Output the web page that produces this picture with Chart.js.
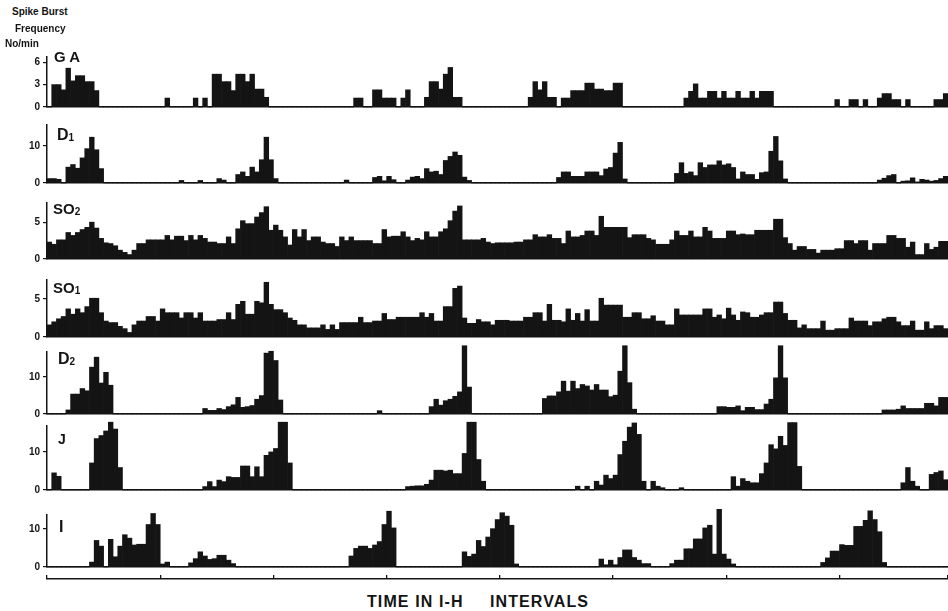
<!DOCTYPE html>
<html>
<head>
<meta charset="utf-8">
<script src="https://cdn.jsdelivr.net/npm/chart.js@4.4.1/dist/chart.umd.min.js"></script>
<style>
  html, body { margin: 0; padding: 0; background: #fff; }
  #wrap { position: relative; width: 948px; height: 611px; overflow: hidden;
          font-family: "Liberation Sans", Arial, sans-serif; color: #141414; }
  #wrap canvas { position: absolute; left: 0; }
  .lbl { position: absolute; font-weight: bold; line-height: 1; white-space: nowrap; z-index: 5; }
  .lbl span { font-size: 10px; vertical-align: -1px; }
  .unit { position: absolute; font-size: 10px; font-weight: bold; line-height: 1; white-space: nowrap; z-index: 5; }
  .xtitle { position: absolute; top: 594px; font-size: 16px; font-weight: bold; line-height: 1;
            letter-spacing: 1.1px; white-space: nowrap; }
</style>
</head>
<body>
<div id="wrap">
  <div class="unit" style="left:12px;top:7px">Spike Burst</div>
  <div class="unit" style="left:15px;top:24px">Frequency</div>
  <div class="unit" style="left:5px;top:39px">No/min</div>

  <div class="lbl" style="left:54px;top:49px;font-size:15px">G A</div>
  <div class="lbl" style="left:57px;top:127px;font-size:16px">D<span>1</span></div>
  <div class="lbl" style="left:53px;top:201px;font-size:15px">SO<span>2</span></div>
  <div class="lbl" style="left:53px;top:280px;font-size:15px">SO<span>1</span></div>
  <div class="lbl" style="left:58px;top:351px;font-size:16px">D<span>2</span></div>
  <div class="lbl" style="left:58px;top:432px;font-size:14px">J</div>
  <div class="lbl" style="left:59px;top:519px;font-size:16px">I</div>

  <div class="xtitle" style="left:367px">TIME IN I-H</div>
  <div class="xtitle" style="left:490px">INTERVALS</div>
</div>

<script>
// spike burst frequency per bin, 191 bins across the record (rows of 12 bins)
const gaValues = [
  0, 3.0, 3.0, 2.3, 5.2, 3.5, 4.2, 4.2, 3.4, 3.4, 2.2, 0,
  0, 0, 0, 0, 0, 0, 0, 0, 0, 0, 0, 0,
  0, 1.2, 0, 0, 0, 0, 0, 1.2, 0, 1.2, 0, 4.4,
  4.4, 3.4, 3.4, 2.2, 4.4, 4.4, 3.4, 4.4, 2.4, 2.4, 1.3, 0,
  0, 0, 0, 0, 0, 0, 0, 0, 0, 0, 0, 0,
  0, 0, 0, 0, 0, 1.2, 1.2, 0, 0, 2.3, 2.3, 1.2,
  1.2, 1.2, 0, 1.2, 2.3, 0, 0, 0, 1.3, 3.4, 3.4, 2.4,
  4.4, 5.3, 1.3, 1.3, 0, 0, 0, 0, 0, 0, 0, 0,
  0, 0, 0, 0, 0, 0, 1.3, 3.4, 2.3, 3.4, 1.3, 1.3,
  0, 1.2, 1.2, 2.2, 2.2, 2.2, 3.2, 3.2, 2.4, 2.4, 2.2, 2.2,
  3.2, 3.2, 0, 0, 0, 0, 0, 0, 0, 0, 0, 0,
  0, 0, 0, 1.2, 2.1, 3.1, 1.2, 1.2, 2.1, 2.1, 1.2, 2.1,
  1.2, 1.2, 2.1, 1.2, 1.2, 2.1, 1.2, 2.1, 2.1, 2.1, 0, 0,
  0, 0, 0, 0, 0, 0, 0, 0, 0, 0, 0, 1.0,
  0, 0, 1.0, 1.0, 0, 1.0, 0, 0, 1.2, 1.8, 1.8, 1.0,
  1.0, 0, 1.0, 0, 0, 0, 0, 0, 1.0, 1.0, 1.8
];

const d1Values = [
  1.2, 1.2, 1.0, 0, 4.3, 5.0, 4.0, 6.8, 9.3, 12.4, 9.0, 3.9,
  0, 0, 0, 0, 0, 0, 0, 0, 0, 0, 0, 0,
  0, 0, 0, 0, 0.7, 0, 0, 0, 0.7, 0, 0, 0,
  1.2, 0.8, 0, 0, 2.3, 3.0, 1.8, 4.3, 3.0, 6.3, 12.4, 6.3,
  1.2, 0, 0, 0, 0, 0, 0, 0, 0, 0, 0, 0,
  0, 0, 0, 0.8, 0, 0, 0, 0, 0, 1.5, 1.8, 0.6,
  1.8, 0.9, 0, 0, 0.8, 1.6, 1.8, 1.2, 3.9, 3.0, 3.2, 2.3,
  6.1, 7.2, 8.4, 7.5, 1.6, 0.7, 0, 0, 0, 0, 0, 0,
  0, 0, 0, 0, 0, 0, 0, 0, 0, 0, 0, 0,
  1.5, 3.0, 3.0, 1.8, 1.8, 1.8, 3.0, 3.0, 3.0, 2.0, 3.8, 4.2,
  8.1, 11.0, 1.1, 0, 0, 0, 0, 0, 0, 0, 0, 0,
  0, 2.6, 5.5, 2.6, 3.0, 2.0, 5.5, 4.2, 4.9, 4.9, 6.0, 4.9,
  5.2, 4.2, 1.1, 3.0, 2.3, 2.3, 1.0, 2.8, 3.0, 8.6, 12.6, 6.0,
  1.1, 0, 0, 0, 0, 0, 0, 0, 0, 0, 0, 0,
  0, 0, 0, 0, 0, 0, 0, 0, 0.8, 1.3, 2.0, 2.3,
  0, 0.5, 0.6, 1.4, 0.3, 1.0, 0.8, 0.5, 0.7, 1.2, 1.8
];

const so2Values = [
  2.3, 2.0, 2.6, 2.6, 3.6, 3.2, 3.6, 4.0, 4.3, 5.0, 4.2, 2.8,
  2.2, 2.1, 1.8, 1.2, 0.9, 0.6, 1.2, 2.1, 2.1, 2.6, 2.6, 2.6,
  2.6, 3.2, 2.6, 3.1, 3.1, 2.5, 3.2, 2.6, 3.2, 2.8, 2.3, 2.3,
  2.1, 2.1, 3.0, 2.1, 4.1, 5.2, 4.8, 4.8, 5.7, 6.3, 7.1, 3.9,
  4.6, 3.9, 3.0, 1.9, 4.0, 3.0, 4.0, 2.5, 3.0, 3.0, 2.3, 2.1,
  2.1, 1.7, 3.0, 2.5, 3.0, 2.5, 2.5, 2.5, 2.5, 2.1, 2.1, 4.0,
  3.0, 3.1, 3.1, 3.7, 3.0, 2.5, 2.8, 2.6, 3.7, 3.0, 3.0, 3.7,
  4.1, 5.2, 6.5, 7.2, 2.6, 2.6, 2.6, 2.6, 2.8, 2.3, 2.1, 2.2,
  2.2, 2.2, 2.2, 2.3, 2.3, 2.6, 2.6, 3.3, 3.0, 3.0, 3.3, 2.8,
  2.8, 2.1, 3.8, 3.0, 3.0, 3.2, 3.8, 3.8, 3.2, 5.8, 4.3, 4.3,
  4.3, 4.3, 4.3, 2.9, 3.3, 3.3, 3.3, 2.8, 2.6, 2.0, 2.0, 2.0,
  2.6, 3.8, 3.2, 3.2, 3.8, 3.0, 3.0, 4.3, 3.8, 2.8, 2.8, 2.8,
  3.8, 3.8, 3.3, 3.4, 3.3, 3.3, 3.9, 3.9, 3.9, 3.9, 5.4, 5.4,
  2.9, 2.1, 1.2, 1.7, 1.7, 1.3, 1.3, 0.8, 1.2, 1.2, 1.2, 1.4,
  1.4, 2.5, 2.5, 2.1, 2.5, 2.5, 1.2, 2.1, 2.1, 2.1, 3.2, 3.2,
  2.8, 2.8, 1.6, 2.3, 0.6, 0.6, 2.1, 1.3, 1.6, 2.4, 2.4
];

const so1Values = [
  1.6, 2.0, 2.4, 2.7, 3.7, 3.0, 3.7, 3.2, 4.0, 5.1, 5.1, 3.2,
  2.1, 1.9, 1.9, 1.4, 1.1, 0.6, 1.6, 2.1, 2.1, 2.7, 2.7, 2.1,
  3.7, 3.2, 3.2, 3.2, 2.5, 3.2, 3.2, 2.5, 3.2, 2.1, 2.1, 2.1,
  2.3, 2.3, 3.2, 2.3, 4.3, 4.7, 3.0, 3.0, 4.7, 4.5, 7.2, 4.3,
  3.6, 3.6, 3.2, 2.5, 2.2, 1.6, 1.6, 1.2, 1.2, 1.2, 1.6, 1.0,
  1.6, 1.0, 1.9, 1.9, 1.9, 1.9, 2.6, 1.9, 1.9, 2.1, 2.1, 3.1,
  2.3, 2.3, 2.6, 2.6, 2.6, 2.6, 2.6, 3.2, 2.6, 3.1, 2.1, 2.1,
  4.0, 4.0, 6.4, 6.7, 2.5, 1.8, 1.8, 2.3, 2.0, 2.0, 1.6, 2.2,
  2.2, 2.2, 2.1, 2.1, 2.1, 2.6, 2.6, 3.2, 3.2, 2.1, 4.3, 2.2,
  2.2, 2.0, 3.7, 2.2, 3.1, 2.1, 3.6, 2.1, 2.1, 5.1, 4.2, 4.2,
  4.2, 4.2, 2.6, 2.6, 3.2, 3.2, 2.4, 2.4, 2.8, 2.1, 2.1, 1.6,
  1.6, 3.7, 2.9, 2.9, 2.9, 2.9, 2.9, 3.7, 3.7, 2.6, 2.9, 2.4,
  3.8, 2.9, 2.2, 3.3, 3.2, 2.6, 2.6, 2.9, 3.2, 3.2, 4.6, 4.6,
  3.1, 2.2, 2.2, 1.2, 1.6, 1.1, 1.1, 1.1, 2.1, 0.9, 0.9, 1.1,
  1.1, 1.1, 2.5, 2.1, 2.1, 2.1, 1.5, 2.0, 2.0, 2.4, 2.6, 2.6,
  2.0, 1.5, 1.5, 2.1, 0.9, 0.9, 2.0, 1.1, 1.5, 1.5, 1.1
];

const d2Values = [
  0, 0, 0, 0, 1.1, 5.4, 5.4, 6.9, 6.3, 12.7, 15.4, 8.4,
  11.3, 7.8, 0, 0, 0, 0, 0, 0, 0, 0, 0, 0,
  0, 0, 0, 0, 0, 0, 0, 0, 0, 1.5, 1.0, 1.0,
  1.5, 1.2, 2.0, 2.5, 4.5, 1.8, 2.0, 2.3, 4.0, 5.0, 16.5, 17.0,
  14.5, 3.8, 0, 0, 0, 0, 0, 0, 0, 0, 0, 0,
  0, 0, 0, 0, 0, 0, 0, 0, 0, 0, 0.9, 0,
  0, 0, 0, 0, 0, 0, 0, 0, 0, 2.0, 4.0, 2.4,
  3.6, 4.0, 4.8, 6.0, 18.5, 7.3, 0, 0, 0, 0, 0, 0,
  0, 0, 0, 0, 0, 0, 0, 0, 0, 4.2, 4.9, 4.9,
  6.0, 8.9, 6.2, 8.9, 6.9, 8.0, 7.6, 6.5, 8.0, 6.5, 6.5, 4.7,
  5.1, 11.6, 18.5, 8.5, 1.3, 0, 0, 0, 0, 0, 0, 0,
  0, 0, 0, 0, 0, 0, 0, 0, 0, 0, 2.0, 2.0,
  1.8, 1.8, 2.2, 0.9, 1.8, 1.8, 1.2, 1.2, 2.7, 4.0, 9.8, 18.5,
  9.8, 0, 0, 0, 0, 0, 0, 0, 0, 0, 0, 0,
  0, 0, 0, 0, 0, 0, 0, 0, 0, 1.1, 1.1, 1.1,
  1.3, 2.2, 1.5, 1.5, 1.5, 1.5, 2.9, 2.9, 2.2, 4.5, 4.5
];

const jValues = [
  0, 4.5, 3.6, 0, 0, 0, 0, 0, 0, 7.1, 13.5, 14.3,
  15.5, 17.8, 16.0, 5.9, 0, 0, 0, 0, 0, 0, 0, 0,
  0, 0, 0, 0, 0, 0, 0, 0, 0, 0.9, 2.2, 0.9,
  2.6, 2.2, 3.5, 3.3, 3.3, 6.3, 6.3, 3.5, 6.1, 3.5, 9.1, 10.0,
  10.9, 17.8, 17.8, 7.1, 0, 0, 0, 0, 0, 0, 0, 0,
  0, 0, 0, 0, 0, 0, 0, 0, 0, 0, 0, 0,
  0, 0, 0, 0, 0.9, 1.0, 1.1, 1.1, 1.5, 2.6, 5.2, 5.2,
  5.0, 5.2, 4.3, 4.3, 9.6, 17.8, 17.8, 8.0, 2.3, 0, 0, 0,
  0, 0, 0, 0, 0, 0, 0, 0, 0, 0, 0, 0,
  0, 0, 0, 0, 1.0, 0, 1.0, 0, 2.3, 1.3, 3.9, 3.0,
  3.9, 9.3, 12.8, 16.5, 17.6, 14.6, 2.3, 0, 2.3, 1.0, 0.6, 0,
  0, 0, 0.6, 0, 0, 0, 0, 0, 0, 0, 0, 0,
  0, 3.5, 1.0, 3.0, 2.3, 1.9, 1.9, 4.3, 7.1, 11.9, 10.8, 14.1,
  11.7, 17.7, 17.7, 6.2, 0, 0, 0, 0, 0, 0, 0, 0,
  0, 0, 0, 0, 0, 0, 0, 0, 0, 0, 0, 0,
  0, 1.9, 5.9, 2.3, 1.0, 0, 0, 4.1, 4.6, 5.0, 2.7
];

const iValues = [
  0, 0, 0, 0, 0, 0, 0, 0, 0, 1.3, 7.0, 5.5,
  0, 7.3, 2.7, 5.5, 8.5, 7.6, 5.8, 6.0, 6.0, 11.2, 14.1, 11.2,
  0.8, 1.3, 0, 0, 0, 0, 1.1, 2.2, 4.0, 2.9, 2.0, 2.2,
  3.1, 3.1, 1.8, 0.9, 0, 0, 0, 0, 0, 0, 0, 0,
  0, 0, 0, 0, 0, 0, 0, 0, 0, 0, 0, 0,
  0, 0, 0, 0, 2.9, 4.9, 5.5, 5.5, 4.9, 5.8, 6.7, 11.2,
  14.7, 10.3, 0, 0, 0, 0, 0, 0, 0, 0, 0, 0,
  0, 0, 0, 0, 4.0, 2.8, 3.4, 7.0, 5.4, 7.9, 10.1, 12.5,
  14.3, 13.4, 11.0, 0.8, 0, 0, 0, 0, 0, 0, 0, 0,
  0, 0, 0, 0, 0, 0, 0, 0, 0, 2.1, 0.6, 1.8,
  0.6, 2.5, 4.5, 4.5, 2.5, 1.8, 0.9, 0.9, 0, 0, 0, 0,
  0.9, 1.8, 1.8, 4.8, 4.8, 7.4, 7.4, 10.3, 11.0, 3.4, 15.2, 3.4,
  2.1, 0.8, 0, 0, 0, 0, 0, 0, 0, 0, 0, 0,
  0, 0, 0, 0, 0, 0, 0, 0, 1.2, 2.4, 4.2, 4.2,
  5.9, 5.7, 5.7, 10.7, 10.7, 12.3, 14.8, 12.5, 9.3, 1.2, 0, 0,
  0, 0, 0, 0, 0, 0, 0, 0, 0, 0, 0
];

// y-axis tick labels
const gaTicks = [0, 3, 6];
const soTicks = [0, 5];
const dTicks = [0, 10];

// one category per bin, a time tick every 24 bins
const bins = gaValues.map((_, i) => i + 1);
const binsPerInterval = 24;

const INK = '#141414';
const FONT = '"Liberation Sans", Arial, sans-serif';

// top = pixel of the axis top, base = pixel of the zero line
const panels = [
  { values: gaValues,  ticks: gaTicks, yMax: 6.7,  top: 57,  base: 107 },
  { values: d1Values,  ticks: dTicks,  yMax: 15.7, top: 125, base: 183 },
  { values: so2Values, ticks: soTicks, yMax: 7.6,  top: 203, base: 259 },
  { values: so1Values, ticks: soTicks, yMax: 7.5,  top: 280, base: 337 },
  { values: d2Values,  ticks: dTicks,  yMax: 16.8, top: 352, base: 414 },
  { values: jValues,   ticks: dTicks,  yMax: 16.8, top: 426, base: 490 },
  { values: iValues,   ticks: dTicks,  yMax: 13.7, top: 515, base: 567 }
];

const wrap = document.getElementById('wrap');
const W = 948;
const HEAD = 18;

function addCanvas(top, height) {
  const c = document.createElement('canvas');
  c.width = W;
  c.height = height;
  c.style.top = top + 'px';
  c.style.width = W + 'px';
  c.style.height = height + 'px';
  wrap.insertBefore(c, wrap.firstChild);
  return c;
}

panels.forEach(p => {
  const height = p.base - p.top + HEAD + 3;
  const canvas = addCanvas(p.top - HEAD, height);

  new Chart(canvas, {
    type: 'bar',
    data: {
      labels: bins,
      datasets: [{
        data: p.values,
        backgroundColor: INK,
        borderWidth: 0,
        barPercentage: 1,
        categoryPercentage: 1,
        clip: false
      }]
    },
    options: {
      responsive: false,
      animation: false,
      events: [],
      layout: { padding: { top: HEAD, bottom: 3, left: 0, right: 0 } },
      plugins: { legend: { display: false }, tooltip: { enabled: false } },
      scales: {
        x: {
          type: 'category',
          offset: true,
          ticks: { display: false },
          grid: { display: false, drawTicks: false },
          border: { display: true, color: INK, width: 1.5 },
          afterFit: s => { s.height = 0; s.paddingLeft = 0; s.paddingRight = 0; }
        },
        y: {
          min: 0,
          max: p.yMax,
          afterBuildTicks: s => { s.ticks = p.ticks.map(v => ({ value: v })); },
          afterFit: s => { s.width = 47; s.paddingTop = 0; s.paddingBottom = 0; },
          ticks: { color: INK, padding: 3, font: { family: FONT, size: 10, weight: 'bold' } },
          grid: { drawOnChartArea: false, drawTicks: true, tickLength: 4, color: INK, lineWidth: 1.2 },
          border: { display: true, color: INK, width: 1.5 }
        }
      }
    }
  });
});

// time axis under the last panel
const axisCanvas = addCanvas(568, 20);
new Chart(axisCanvas, {
  type: 'bar',
  data: { labels: bins, datasets: [] },
  options: {
    responsive: false,
    animation: false,
    events: [],
    layout: { padding: { top: 7, bottom: 9, left: 47, right: 0 } },
    plugins: { legend: { display: false }, tooltip: { enabled: false } },
    scales: {
      x: {
        type: 'category',
        offset: true,
        ticks: { display: false },
        grid: {
          display: true,
          offset: true,
          drawOnChartArea: true,
          drawTicks: false,
          lineWidth: 1.3,
          color: c => (c.index === undefined || c.index % binsPerInterval === 0) ? INK : 'rgba(0,0,0,0)'
        },
        border: { display: true, color: INK, width: 1.5 },
        afterFit: s => { s.height = 0; s.paddingLeft = 0; s.paddingRight = 0; }
      },
      y: { display: false }
    }
  }
});
</script>
</body>
</html>
